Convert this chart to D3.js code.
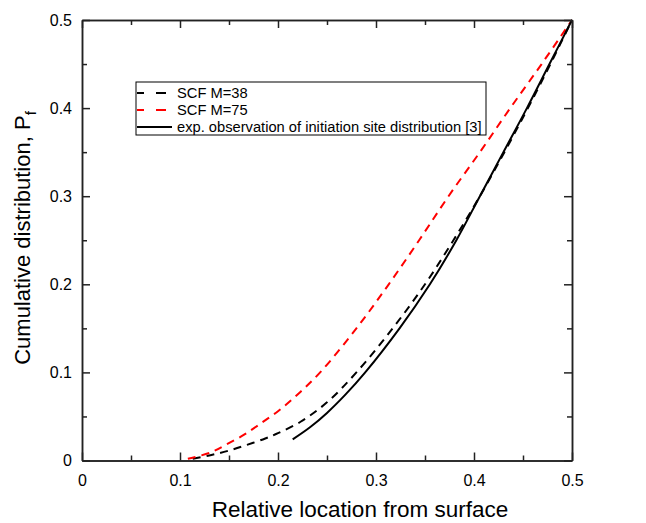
<!DOCTYPE html>
<html>
<head>
<meta charset="utf-8">
<script src="https://cdn.jsdelivr.net/npm/d3@7"></script>
<style>
  body { margin: 0; background: #fff; }
  text { font-family: "Liberation Sans", Arial, sans-serif; }
</style>
</head>
<body>
<script>
var outerWidth = 646;
var outerHeight = 523;
var margin = {left: 82, top: 20, right: 74, bottom: 62.5};
var innerWidth = outerWidth - margin.left - margin.right;
var innerHeight = outerHeight - margin.top - margin.bottom;

// tick values
var xTicks = [0, 0.1, 0.2, 0.3, 0.4, 0.5];
var yTicks = [0, 0.1, 0.2, 0.3, 0.4, 0.5];
var minorTicks = [0.05, 0.15, 0.25, 0.35, 0.45];

// SCF M=38 (black dashed)
var m38X = [0.113, 0.131, 0.149, 0.168, 0.187, 0.2, 0.223, 0.25, 0.28, 0.317, 0.35, 0.379, 0.406, 0.431, 0.455, 0.478, 0.5];
var m38Y = [0.002, 0.006, 0.011, 0.0176, 0.025, 0.031, 0.044, 0.066, 0.1, 0.15, 0.2, 0.25, 0.3, 0.35, 0.4, 0.45, 0.5];

// SCF M=75 (red dashed)
var m75X = [0.108, 0.131, 0.147, 0.165, 0.181, 0.2, 0.22, 0.243, 0.28, 0.313, 0.344, 0.374, 0.406, 0.437, 0.469, 0.5];
var m75Y = [0.002, 0.009, 0.018, 0.029, 0.041, 0.056, 0.075, 0.1, 0.15, 0.2, 0.25, 0.3, 0.35, 0.4, 0.45, 0.5];

// experimental observation (black solid)
var expX = [0.215, 0.233, 0.25, 0.269, 0.289, 0.324, 0.355, 0.382, 0.406, 0.43, 0.454, 0.477, 0.5];
var expY = [0.024, 0.038, 0.054, 0.075, 0.1, 0.15, 0.2, 0.25, 0.3, 0.35, 0.4, 0.45, 0.5];

var legendNames = ["SCF M=38", "SCF M=75", "exp. observation of initiation site distribution [3]"];

function zip(xs, ys) {
    return xs.map(function(x, i) { return [x, ys[i]]; });
}

var series = [
    {name: legendNames[0], pts: zip(m38X, m38Y), color: "#000", dash: "8,6"},
    {name: legendNames[1], pts: zip(m75X, m75Y), color: "#ff0000", dash: "8,6"},
    {name: legendNames[2], pts: zip(expX, expY), color: "#000", dash: null}
];

var svg = d3.select("body").append("svg")
    .attr("width", outerWidth)
    .attr("height", outerHeight);

var g = svg.append("g")
    .attr("transform", "translate(" + margin.left + "," + margin.top + ")");

var x = d3.scaleLinear().domain([0, 0.5]).range([0, innerWidth]);
var y = d3.scaleLinear().domain([0, 0.5]).range([innerHeight, 0]);

var fmt = function(d) { return d === 0 ? "0" : d3.format(".1f")(d); };

// curves
var line = d3.line()
    .x(function(d) { return x(d[0]); })
    .y(function(d) { return y(d[1]); })
    .curve(d3.curveCatmullRom.alpha(0.5));

series.forEach(function(s) {
    g.append("path")
        .datum(s.pts)
        .attr("fill", "none")
        .attr("stroke", s.color)
        .attr("stroke-width", 2)
        .attr("stroke-dasharray", s.dash)
        .attr("d", line);
});

// axes: ticks pointing inward on all four sides
function styleAxis(sel) {
    sel.select(".domain").attr("stroke", "#222").attr("stroke-width", 1.5);
    sel.selectAll(".tick line").attr("stroke", "#222").attr("stroke-width", 1.5);
    sel.selectAll(".tick text")
        .attr("fill", "#000")
        .style("font-size", "16px")
        .style("font-family", "Liberation Sans, Arial, sans-serif");
}
function noLabels(sel) {
    styleAxis(sel);
    sel.selectAll(".tick text").remove();
}

g.append("g")
    .attr("transform", "translate(0," + innerHeight + ")")
    .call(d3.axisBottom(x).tickValues(xTicks).tickSize(-8).tickSizeOuter(0).tickPadding(14).tickFormat(fmt))
    .call(styleAxis);
g.append("g")
    .attr("transform", "translate(0," + innerHeight + ")")
    .call(d3.axisBottom(x).tickValues(minorTicks).tickSize(-5).tickSizeOuter(0))
    .call(noLabels);

g.append("g")
    .call(d3.axisLeft(y).tickValues(yTicks).tickSize(-8).tickSizeOuter(0).tickPadding(10).tickFormat(fmt))
    .call(styleAxis);
g.append("g")
    .call(d3.axisLeft(y).tickValues(minorTicks).tickSize(-5).tickSizeOuter(0))
    .call(noLabels);

g.append("g")
    .call(d3.axisTop(x).tickValues(xTicks).tickSize(-8).tickSizeOuter(0))
    .call(noLabels);
g.append("g")
    .call(d3.axisTop(x).tickValues(minorTicks).tickSize(-5).tickSizeOuter(0))
    .call(noLabels);

g.append("g")
    .attr("transform", "translate(" + innerWidth + ",0)")
    .call(d3.axisRight(y).tickValues(yTicks).tickSize(-8).tickSizeOuter(0))
    .call(noLabels);
g.append("g")
    .attr("transform", "translate(" + innerWidth + ",0)")
    .call(d3.axisRight(y).tickValues(minorTicks).tickSize(-5).tickSizeOuter(0))
    .call(noLabels);

// axis titles
svg.append("text")
    .attr("x", 360)
    .attr("y", 517)
    .attr("text-anchor", "middle")
    .style("font-size", "22.5px")
    .text("Relative location from surface");

var yTitle = svg.append("text")
    .attr("transform", "translate(30,238) rotate(-90)")
    .attr("text-anchor", "middle")
    .style("font-size", "22px");
yTitle.append("tspan").text("Cumulative distribution, P");
yTitle.append("tspan").attr("dy", 6).style("font-size", "15px").text("f");

// legend
var legend = svg.append("g").attr("transform", "translate(136,82)");
legend.append("rect")
    .attr("width", 350)
    .attr("height", 53)
    .attr("fill", "#fff")
    .attr("stroke", "#000")
    .attr("stroke-width", 1);

series.forEach(function(s, i) {
    var row = legend.append("g").attr("transform", "translate(0," + (11 + i * 17) + ")");
    row.append("line")
        .attr("x1", 1).attr("x2", s.dash ? 30 : 36)
        .attr("stroke", s.color)
        .attr("stroke-width", 2)
        .attr("stroke-dasharray", s.dash ? "7,12,10" : null);
    row.append("text")
        .attr("x", 41)
        .attr("y", 5)
        .style("font-size", "14.7px")
        .text(s.name);
});
</script>
</body>
</html>
